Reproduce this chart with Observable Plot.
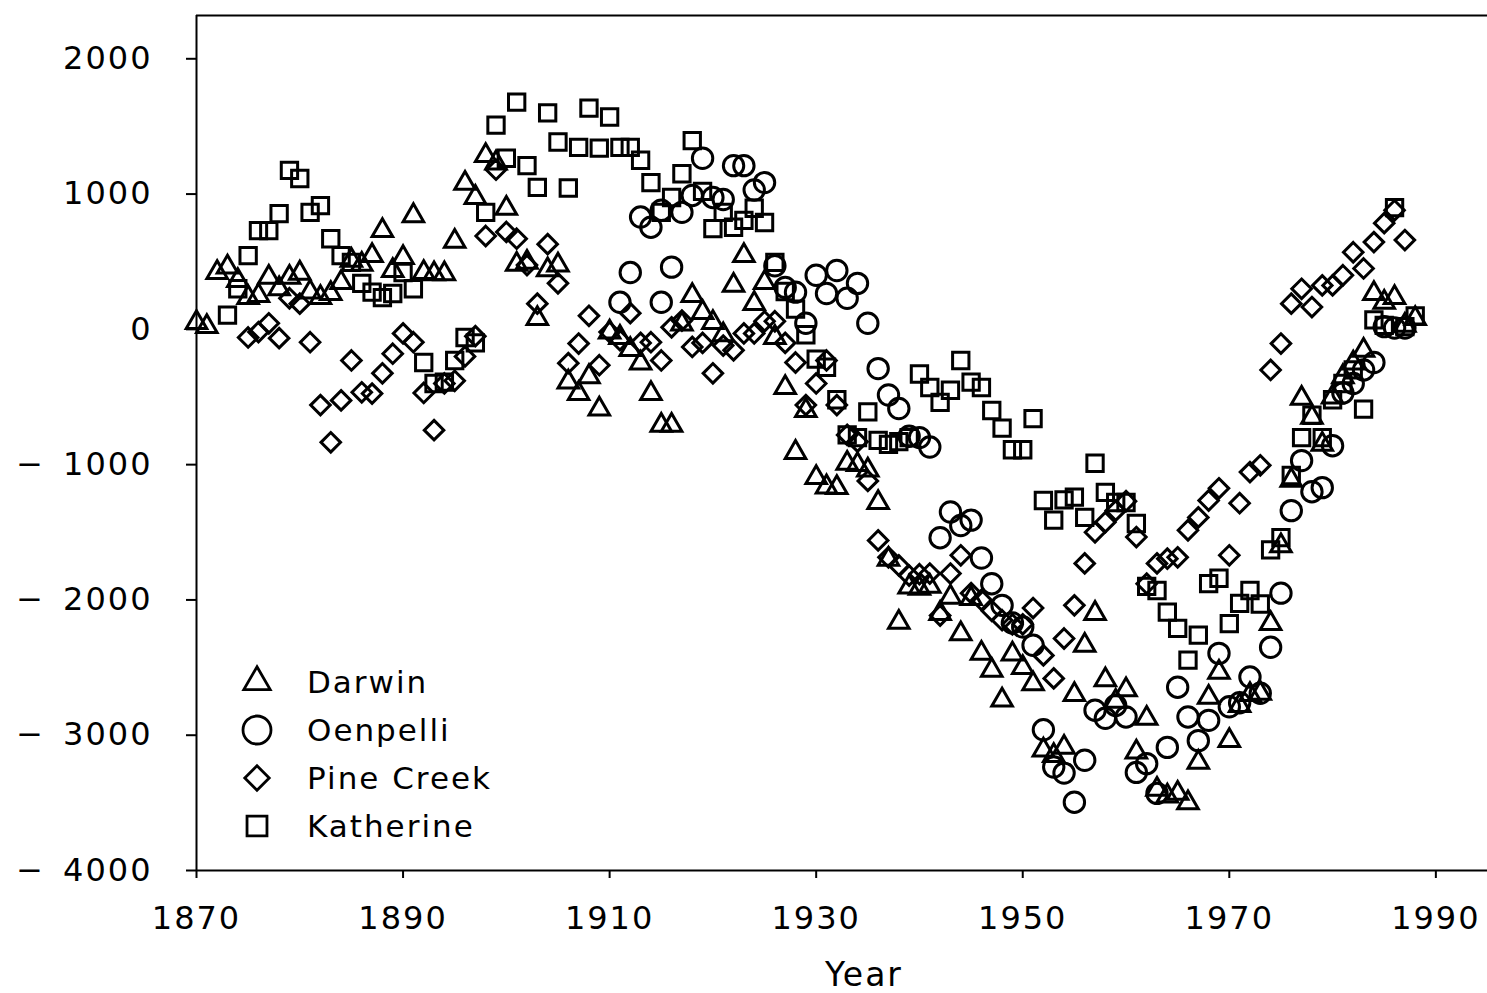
<!DOCTYPE html>
<html><head><meta charset="utf-8">
<script src="https://cdn.jsdelivr.net/npm/d3@7"></script>
<script src="https://cdn.jsdelivr.net/npm/@observablehq/plot@0.6"></script>
<style>
body{margin:0;background:#fff;}
#wrap{position:relative;width:1487px;height:993px;overflow:hidden;background:#fff;}
#wrap svg text{letter-spacing:2px;white-space:pre;}
#legend{position:absolute;left:0;top:0;pointer-events:none;}
</style></head><body><div id="wrap"></div>
<script>
// ---- data (cumulative rainfall deviation, mm) ----
const stations = ["Darwin", "Oenpelli", "Pine Creek", "Katherine"];
const symbols = ["triangle2", "circle", "diamond2", "square2"];
const xTicks = [1870, 1890, 1910, 1930, 1950, 1970, 1990];
const yTicks = [-4000, -3000, -2000, -1000, 0, 1000, 2000];

const darwinYears = d3.range(1870, 1989);
const darwinValues = [
  50, 20, 420, 460, 360, 235, 250, 385, 300, 385,
  415, 275, 235, 265, 345, 510, 480, 545, 730, 435,
  530, 840, 420, 410, 410, 650, 1080, 975, 1285, 1230,
  895, 480, 495, 80, 440, 475, -390, -475, -350, -590,
  -20, -60, -150, -250, -475, -710, -710, 40, 250, 125,
  50, -40, 325, 545, 190, 345, -60, -430, -910, -600,
  -1095, -1165, -1170, -990, -1000, -1040, -1280, -1700, -2165, -1905,
  -1915, -1900, -2100, -1980, -2250, -1990, -2395, -2520, -2740, -2400,
  -2500, -2620, -3110, -3150, -3090, -2700, -2335, -2100, -2590, -2750,
  -2665, -3125, -2875, -3400, -3450, -3430, -3500, -3200, -2720, -2535,
  -3040, -2780, -2700, -2690, -2175, -1600, -1115, -510, -650, -850,
  -500, -350, -250, -155, 265, 200, 235, 30, 80
];

const oenpelliYears = [
  1911, 1912, 1915, 1916, 1913, 1914, 1915, 1917, 1918, 1919, 1920, 1921, 1922, 1923, 1924, 1925,
  ...d3.range(1926, 1988)
];
const oenpelliValues = [
  200, 420, 200, 460, 830, 755, 880, 865, 990, 1265, 975, 960, 1210, 1210, 1030, 1085,
  470, 310, 275, 45,
  400, 265, 435, 230, 340, 45, -290, -485, -585, -790,
  -800, -870, -1540, -1350, -1450, -1410, -1690, -1880, -2040, -2170,
  -2200, -2335, -2960, -3235, -3280, -3495, -3185, -2815, -2875, -2780,
  -2865, -3275, -3210, -3430, -3090, -2645, -2865, -3040, -2890, -2395,
  -2790, -2760, -2570, -2690, -2350, -1950, -1340, -970, -1200, -1170,
  -860, -470, -400, -300, -245, 20, 10, 10
];

const pineCreekYears = d3.range(1875, 1988);
const pineCreekValues = [
  -60, -20, 45, -65, 230,
  190, -95, -560, -835, -525, -230, -465, -475, -325, -180,
  -30, -95, -470, -745, -400, -380, -200, -50, 690, 1180,
  720, 670, 475, 190, 630, 340, -250, -105, 100, -265,
  -20, -80, 120, -100, -95, -230, 15, 65, -130, -100,
  -325, -120, -155, -30, -30, 60, 60, -100, -245, -560,
  -400, -230, -560, -780, -830, -1120, -1560, -1685, -1745, -1820,
  -1810, -1805, -2115, -1805, -1670, -1950, -2000, -2080, -2150, -2180,
  -2180, -2060, -2410, -2580, -2285, -2040, -1730, -1500, -1425, -1340,
  -1270, -1535, -1880, -1730, -1695, -1685, -1485, -1390, -1265, -1175,
  -1670, -1285, -1055, -1005, -300, -105, 190, 300, 165, 325,
  325, 400, 570, 450, 645, 785, 880, 660
];

const katherineYears = d3.range(1873, 1989);
const katherineValues = [
  105, 300, 545, 730, 730, 855, 1175,
  1115, 865, 915, 670, 545, 495, 340, 275, 235, 265,
  420, 300, -245, -400, -390, -230, -60, -100, 865, 1510,
  1265, 1680, 1210, 1050, 1600, 1385, 1045, 1345, 1635, 1340,
  1570, 1345, 1345, 1250, 1085, 865, 975, 1150, 1395, 1020,
  745, 865, 755, 805, 895, 790, 495, 280, 150, -40,
  -220, -280, -520, -780, -800, -610, -820, -850, -830, -800,
  -330, -430, -540, -450, -230, -390, -430, -600, -730, -890,
  -890, -660, -1265, -1410, -1260, -1240, -1390, -990, -1205, -1280,
  -1280, -1435, -1900, -1930, -2090, -2210, -2445, -2260, -1880, -1840,
  -2175, -2025, -1930, -2030, -1630, -1540, -1080, -800, -635, -800,
  -520, -400, -300, -590, 70, 30, 900, 20, 100
];

// ---- build tables ----
const series = [
  {name: stations[0], years: darwinYears, values: darwinValues},
  {name: stations[1], years: oenpelliYears, values: oenpelliValues},
  {name: stations[2], years: pineCreekYears, values: pineCreekValues},
  {name: stations[3], years: katherineYears, values: katherineValues}
].map((s, i) => ({...s, symbol: symbols[i], rows: s.years.map((y, j) => ({year: y, value: s.values[j]}))}));

const markR = {triangle2: 9.8, circle: 10.2, diamond2: 8.8, square2: 10.4};
const legendR = {triangle2: 12.6, circle: 14, diamond2: 11, square2: 12.7};
const yDomain = [-4000, 2320];
const font = "DejaVu Sans";
const yFormat = d => d < 0 ? "\u2212\u2002" + Math.abs(d) : String(d);

const chart = Plot.plot({
  width: 1487,
  height: 993,
  marginLeft: 196,
  marginRight: 0,
  marginTop: 15,
  marginBottom: 123,
  style: {fontFamily: font, fontSize: "32px", color: "#000", background: "#fff"},
  x: {domain: [1870, 1995]},
  y: {domain: yDomain},
  marks: [
    Plot.axisX({ticks: xTicks, tickFormat: d => String(d), tickSize: 8, tickPadding: 28, strokeWidth: 2, fontSize: 32, label: null}),
    Plot.axisY({ticks: yTicks, tickFormat: yFormat, tickSize: 10, tickPadding: 34, strokeWidth: 2, fontSize: 32, label: null}),
    Plot.ruleX([1870], {stroke: "#000", strokeWidth: 2}),
    Plot.ruleY([yDomain[0]], {stroke: "#000", strokeWidth: 2}),
    Plot.ruleY([yDomain[1]], {stroke: "#000", strokeWidth: 2}),
    ...series.map(s => Plot.dot(s.rows, {
      x: "year", y: "value", symbol: () => s.symbol, r: markR[s.symbol],
      stroke: "#000", fill: "none", strokeWidth: 3
    })),
    Plot.text(["Year"], {frameAnchor: "bottom", dx: 22, dy: 105, lineAnchor: "middle", fontSize: 33, fill: "#000"})
  ]
});

const wrap = document.getElementById("wrap");
wrap.appendChild(chart);

// ---- legend (inside plot, lower left) ----
const symTypes = {triangle2: d3.symbolTriangle2, circle: d3.symbolCircle, diamond2: d3.symbolDiamond2, square2: d3.symbolSquare2};
const lg = d3.select(wrap).append("svg").attr("id", "legend").attr("width", 1487).attr("height", 993);
const legendX = 257, legendTextX = 307, legendY0 = 682, legendStep = 48;
series.forEach((s, i) => {
  const cy = legendY0 + i * legendStep;
  lg.append("path")
    .attr("d", d3.symbol(symTypes[s.symbol], Math.PI * legendR[s.symbol] ** 2)())
    .attr("transform", `translate(${legendX},${cy})`)
    .attr("fill", "none").attr("stroke", "#000").attr("stroke-width", 2.8);
  lg.append("text")
    .attr("x", legendTextX).attr("y", cy).attr("dy", "0.36em")
    .attr("font-family", font).attr("font-size", 31)
    .attr("fill", "#000")
    .text(s.name);
});
</script>
</body></html>
